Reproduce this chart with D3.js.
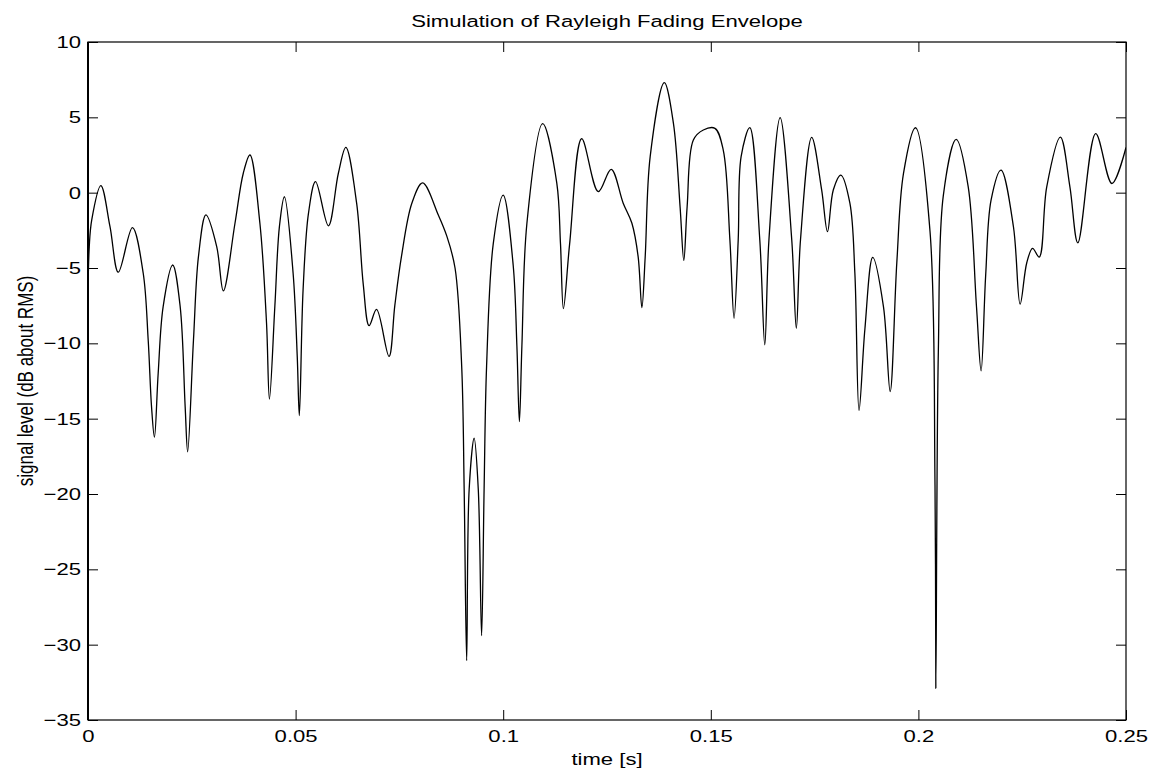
<!DOCTYPE html>
<html>
<head>
<meta charset="utf-8">
<script src="https://cdn.jsdelivr.net/npm/d3@7"></script>
<style>
  html, body { margin: 0; padding: 0; background: #fff; }
  svg { display: block; }
  text { font-family: "Liberation Sans", Arial, Helvetica, sans-serif; fill: #000; }
</style>
</head>
<body>
<svg id="chart" width="1159" height="776"></svg>
<script>
// ---- data ----
const timeS = [
  0.0000, 0.0003, 0.0009, 0.0031, 0.0053, 0.0073, 0.0107, 0.0133, 0.0145, 0.0153,
  0.0160, 0.0169, 0.0181, 0.0204, 0.0222, 0.0234, 0.0240, 0.0254, 0.0266, 0.0284,
  0.0310, 0.0326, 0.0354, 0.0374, 0.0390, 0.0414, 0.0430, 0.0437, 0.0450, 0.0461,
  0.0473, 0.0494, 0.0504, 0.0509, 0.0518, 0.0531, 0.0548, 0.0579, 0.0603, 0.0621,
  0.0647, 0.0663, 0.0677, 0.0695, 0.0725, 0.0739, 0.0755, 0.0780, 0.0806, 0.0844,
  0.0864, 0.0884, 0.0900, 0.0906, 0.0912, 0.0918, 0.0930, 0.0940, 0.0948, 0.0954,
  0.0960, 0.0976, 0.1000, 0.1024, 0.1033, 0.1039, 0.1045, 0.1057, 0.1095, 0.1129,
  0.1138, 0.1145, 0.1160, 0.1189, 0.1229, 0.1260, 0.1289, 0.1310, 0.1325, 0.1334,
  0.1342, 0.1354, 0.1388, 0.1410, 0.1426, 0.1435, 0.1443, 0.1458, 0.1482, 0.1510,
  0.1530, 0.1546, 0.1556, 0.1566, 0.1573, 0.1594, 0.1618, 0.1630, 0.1640, 0.1667,
  0.1695, 0.1706, 0.1716, 0.1743, 0.1767, 0.1781, 0.1795, 0.1813, 0.1835, 0.1847,
  0.1857, 0.1871, 0.1890, 0.1916, 0.1932, 0.1948, 0.1964, 0.1993, 0.2028, 0.2040,
  0.2042, 0.2048, 0.2060, 0.2091, 0.2120, 0.2140, 0.2151, 0.2162, 0.2175, 0.2199,
  0.2229, 0.2245, 0.2261, 0.2275, 0.2291, 0.2309, 0.2342, 0.2365, 0.2384, 0.2427,
  0.2466, 0.2500
];
const levelDb = [
  -6.7, -3.6, -1.8, 0.47, -2.26, -5.28, -2.32, -5.35, -9.8, -14.2,
  -16.23, -12.0, -7.56, -4.8, -7.56, -14.2, -17.2, -9.8, -4.25, -1.48,
  -3.58, -6.52, -2.03, 1.29, 2.5, -2.03, -8.67, -13.7, -7.56, -2.25,
  -0.27, -5.35, -10.9, -14.8, -6.46, -1.37, 0.73, -2.2, 1.29, 3.0,
  -0.7, -6.1, -8.83, -7.75, -10.87, -7.48, -4.23, -0.7, 0.65, -1.5,
  -2.87, -5.0, -11.5, -19.7, -31.06, -19.7, -16.3, -19.7, -29.4, -19.7,
  -11.5, -3.4, -0.16, -4.8, -10.2, -15.2, -10.2, -2.06, 4.58, 0.65,
  -3.4, -7.7, -3.4, 3.58, 0.07, 1.55, -0.7, -2.03, -4.25, -7.63,
  -4.25, 2.39, 7.3, 4.6, -0.93, -4.5, -0.93, 3.5, 4.16, 4.27,
  2.83, -3.14, -8.34, -3.14, 2.39, 4.31, -3.14, -10.1, -3.14, 4.98,
  -3.14, -9.0, -3.14, 3.67, 0.18, -2.59, 0.18, 1.17, -0.7, -5.35,
  -14.45, -9.1, -4.3, -7.6, -13.2, -4.65, 1.26, 4.31, -2.58, -19.4,
  -32.9, -10.6, -0.2, 3.54, 0.38, -7.6, -11.83, -5.5, -0.5, 1.5,
  -2.28, -7.4, -4.65, -3.7, -4.27, 0.37, 3.69, 0.37, -3.33, 3.92,
  0.61, 3.0
];
const xTickValues = [0, 0.05, 0.1, 0.15, 0.2, 0.25];
const xTickLabels = ["0", "0.05", "0.1", "0.15", "0.2", "0.25"];
const yTickValues = [-35, -30, -25, -20, -15, -10, -5, 0, 5, 10];
const yTickLabels = ["\u221235", "\u221230", "\u221225", "\u221220", "\u221215", "\u221210", "\u22125", "0", "5", "10"];
const titleText = "Simulation of Rayleigh Fading Envelope";
const xLabelText = "time [s]";
const yLabelText = "signal level (dB about RMS)";

// ---- layout ----
const W = 1159, H = 776;
const margin = { left: 88, top: 42, right: 33, bottom: 56 };
const pw = W - margin.left - margin.right;   // 1038
const ph = H - margin.top - margin.bottom;   // 678
const fs = 17, sx = 1.3, tickLen = 10;

const svg = d3.select("#chart");
svg.append("rect").attr("width", W).attr("height", H).attr("fill", "#fff");
const g = svg.append("g").attr("transform", `translate(${margin.left},${margin.top})`);

const x = d3.scaleLinear().domain([0, 0.25]).range([0, pw]);
const y = d3.scaleLinear().domain([-35, 10]).range([ph, 0]);

const data = timeS.map((t, i) => ({ t, v: levelDb[i] }));

// curve (clipped to plot area)
svg.append("defs").append("clipPath").attr("id", "clip")
  .append("rect").attr("width", pw).attr("height", ph);
g.append("path")
  .datum(data)
  .attr("clip-path", "url(#clip)")
  .attr("fill", "none")
  .attr("stroke", "#000")
  .attr("stroke-width", 1.3)
  .attr("stroke-linejoin", "round")
  .attr("d", d3.line().x(d => x(d.t)).y(d => y(d.v)).curve(d3.curveCatmullRom.alpha(0.5)));

function styleAxis(sel) {
  sel.select(".domain").remove();
  sel.selectAll(".tick line").attr("stroke", "#000").attr("stroke-width", 1);
  sel.selectAll(".tick text").attr("font-size", fs).attr("font-family", null);
}

// left axis
const yAxisL = g.append("g").call(
  d3.axisLeft(y).tickValues(yTickValues)
    .tickFormat((d, i) => yTickLabels[i])
    .tickSizeInner(-tickLen).tickSizeOuter(0).tickPadding(7));
styleAxis(yAxisL);
yAxisL.selectAll(".tick text")
  .attr("x", -7 / sx)
  .attr("transform", `scale(${sx},1)`);

// right axis (ticks only)
const yAxisR = g.append("g").attr("transform", `translate(${pw},0)`).call(
  d3.axisRight(y).tickValues(yTickValues).tickFormat("")
    .tickSizeInner(-tickLen).tickSizeOuter(0));
styleAxis(yAxisR);

// bottom axis
const xAxisB = g.append("g").attr("transform", `translate(0,${ph})`).call(
  d3.axisBottom(x).tickValues(xTickValues)
    .tickFormat((d, i) => xTickLabels[i])
    .tickSizeInner(-tickLen).tickSizeOuter(0).tickPadding(10));
styleAxis(xAxisB);
xAxisB.selectAll(".tick text").attr("transform", `scale(${sx},1)`);

// top axis (ticks only)
const xAxisT = g.append("g").call(
  d3.axisTop(x).tickValues(xTickValues).tickFormat("")
    .tickSizeInner(-tickLen).tickSizeOuter(0));
styleAxis(xAxisT);

// frame
g.append("rect").attr("width", pw).attr("height", ph)
  .attr("fill", "none").attr("stroke", "#000").attr("stroke-width", 1.2);
g.append("line").attr("x1", 0).attr("x2", 0).attr("y1", 0).attr("y2", ph)
  .attr("stroke", "#000").attr("stroke-width", 2);

// title
svg.append("g").attr("transform", `translate(${margin.left + pw / 2},27) scale(${sx},1)`)
  .append("text").attr("text-anchor", "middle").attr("font-size", fs).text(titleText);

// x label
svg.append("g").attr("transform", `translate(${margin.left + pw / 2},765) scale(${sx},1)`)
  .append("text").attr("text-anchor", "middle").attr("font-size", fs).text(xLabelText);

// y label (rotated; stretch applies across glyph height)
svg.append("g").attr("transform", `translate(33,${margin.top + ph / 2}) scale(${sx},1) rotate(-90)`)
  .append("text").attr("text-anchor", "middle").attr("font-size", fs).text(yLabelText);
</script>
</body>
</html>
